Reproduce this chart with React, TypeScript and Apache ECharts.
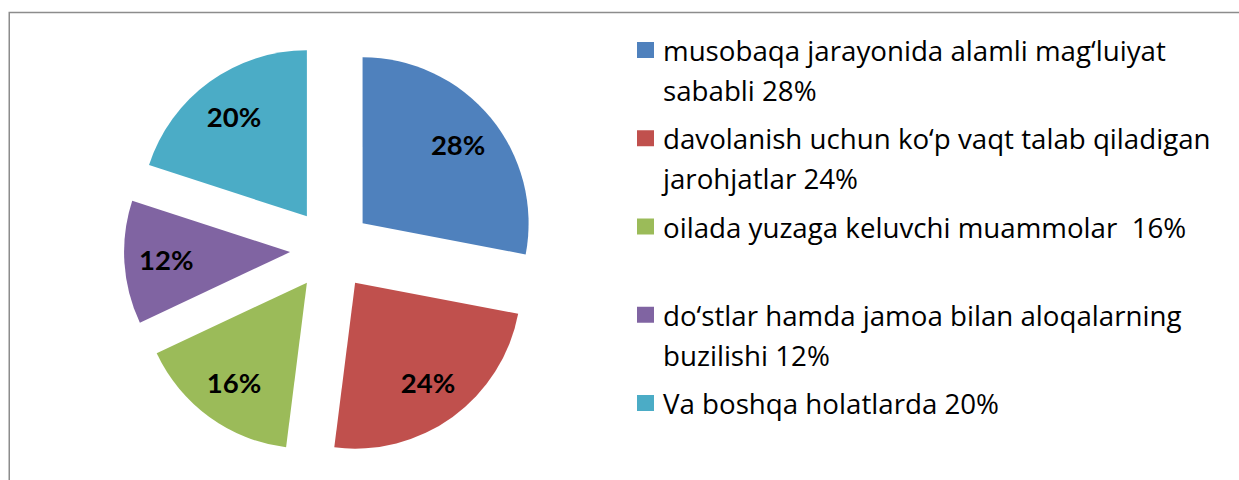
import React, { useEffect, useRef } from "react";
import * as echarts from "echarts";

const categories = [
  "musobaqa jarayonida alamli mag‘luiyat sababli 28%",
  "davolanish uchun ko‘p vaqt talab qiladigan jarohjatlar 24%",
  "oilada yuzaga keluvchi muammolar  16%",
  "do‘stlar hamda jamoa bilan aloqalarning buzilishi 12%",
  "Va boshqa holatlarda 20%",
];
const values = [28, 24, 16, 12, 20];
const legendLines = [
  ["musobaqa jarayonida alamli mag‘luiyat", "sababli 28%"],
  ["davolanish uchun ko‘p vaqt talab qiladigan", "jarohjatlar 24%"],
  ["oilada yuzaga keluvchi muammolar  16%"],
  ["do‘stlar hamda jamoa bilan aloqalarning", "buzilishi 12%"],
  ["Va boshqa holatlarda 20%"],
];
const colors = ["#4F81BD", "#C0504D", "#9BBB59", "#8064A2", "#4BACC6"];

const LEGEND_FONT = "'Open Sans', Lato, sans-serif";
const LABEL_FONT = "Lato, 'Open Sans', sans-serif";

export default function App() {
  const ref = useRef<HTMLDivElement>(null);
  useEffect(() => {
    if (!ref.current) return;
    const chart = echarts.init(ref.current, undefined, { renderer: "svg" });
    const legends = categories.map((name, i) => {
      const two = legendLines[i].length > 1;
      const markerY = 50 + 88.25 * i;
      return {
        data: [name],
        orient: "vertical",
        left: 637,
        top: markerY - (two ? 60 : 20),
        padding: 0,
        itemWidth: 17,
        itemHeight: 16,
        icon: "rect",
        selectedMode: false,
        formatter: () => (two ? "\n" : "") + legendLines[i].join("\n"),
        textStyle: {
          fontFamily: LEGEND_FONT,
          fontSize: 27.7,
          color: "#000",
          lineHeight: 40,
          padding: [0, 0, 0, 4],
        },
      };
    });
    const pieData = (transparent: boolean) =>
      categories.map((name, i) => ({
        name,
        value: values[i],
        selected: true,
        itemStyle: { color: transparent ? "rgba(0,0,0,0)" : colors[i] },
      }));
    chart.setOption({
      animation: false,
      graphic: [
        {
          type: "rect",
          shape: { x: 9.25, y: 12.5, width: 1400, height: 700 },
          style: { fill: "none", stroke: "#8c8c8c", lineWidth: 1.5 },
          silent: true,
        },
      ],
      legend: legends,
      series: [
        {
          type: "pie",
          center: [331, 249.5],
          radius: [0, 166],
          startAngle: 90,
          clockwise: true,
          selectedMode: "multiple",
          selectedOffset: 41,
          silent: true,
          avoidLabelOverlap: false,
          label: { show: false },
          labelLine: { show: false },
          data: pieData(false),
        },
        {
          type: "pie",
          center: [331, 249.5],
          radius: [76, 166],
          startAngle: 90,
          clockwise: true,
          selectedMode: "multiple",
          selectedOffset: 41,
          silent: true,
          avoidLabelOverlap: false,
          label: {
            show: true,
            position: "inside",
            formatter: "{c}%",
            fontFamily: LABEL_FONT,
            fontWeight: "bold",
            fontSize: 27.5,
            color: "#000",
          },
          labelLine: { show: false },
          data: pieData(true),
        },
      ],
    });
    return () => chart.dispose();
  }, []);
  return (
    <div
      ref={ref}
      style={{ position: "absolute", left: 0, top: 0, width: 1239, height: 480 }}
    />
  );
}
